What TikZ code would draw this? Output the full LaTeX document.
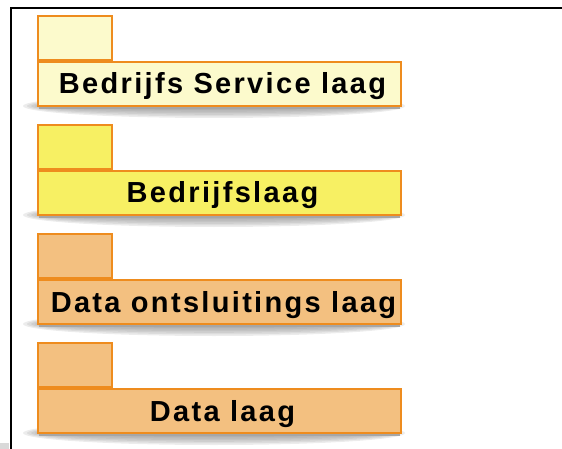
\documentclass[tikz,border=0pt]{standalone}
\usepackage{fontspec}
\usepackage{tikz}
\usetikzlibrary{positioning}
\newfontfamily\laagfont[LetterSpace=8]{Liberation Sans}
\definecolor{bslgeel}{RGB}{252,250,204}
\definecolor{blgeel}{RGB}{247,240,99}
\definecolor{dataoranje}{RGB}{243,192,128}
\definecolor{randoranje}{RGB}{238,140,30}

\begin{document}
\begin{tikzpicture}[x=1pt,y=-1pt]
		\tikzstyle{body}=[rectangle,draw=randoranje,line width=2pt,anchor=north west,
			minimum width=363pt,minimum height=44pt,inner sep=0pt];
		\tikzstyle{tab}=[rectangle,draw=randoranje,line width=2pt,anchor=south west,
			minimum width=74pt,minimum height=44pt,inner sep=0pt];
		\tikzstyle{laagtext}=[anchor=base,inner sep=0pt,font=\laagfont\bfseries\fontsize{29}{33}\selectfont];
		\tikzstyle{schaduw}=[fill=gray,opacity=0.15];
		\useasboundingbox(0,0)rectangle(562,449);
		% kader
		\draw[line width=2pt](11,460)--(11,8)--(575,8);
		\fill[gray!30](0,443)rectangle(9,449);
		% schaduwen
		\foreach \y in {105,214,323,432}{
			\foreach \r in {0,...,5}
				\path[schaduw](214,\y+1)ellipse({191pt-4pt*\r} and {12pt-1.6pt*\r});
			\fill[gray!70](39,\y)rectangle(400,\y+4);
		}
		% lagen
		\node[body,fill=bslgeel](b1)at(37,61){};
		\node[tab,fill=bslgeel](t1)at(b1.north west){};
		\node[laagtext,xshift=3pt,yshift=13pt](l1)at(b1.south){Bedrijfs Service laag};

		\node[body,fill=blgeel](b2)at(37,170){};
		\node[tab,fill=blgeel](t2)at(b2.north west){};
		\node[laagtext,xshift=3pt,yshift=13pt](l2)at(b2.south){Bedrijfslaag};

		\node[body,fill=dataoranje](b3)at(37,279){};
		\node[tab,fill=dataoranje](t3)at(b3.north west){};
		\node[laagtext,xshift=4pt,yshift=13pt](l3)at(b3.south){Data ontsluitings laag};

		\node[body,fill=dataoranje](b4)at(37,388){};
		\node[tab,fill=dataoranje](t4)at(b4.north west){};
		\node[laagtext,xshift=3pt,yshift=13pt](l4)at(b4.south){Data laag};
	\end{tikzpicture}
\end{document}
